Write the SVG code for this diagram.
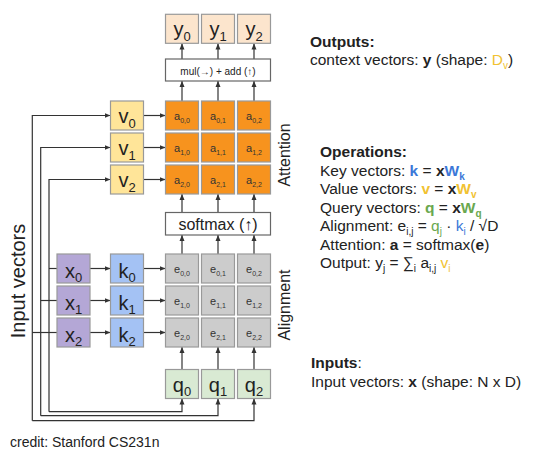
<svg xmlns="http://www.w3.org/2000/svg" width="550" height="460" viewBox="0 0 550 460">
<style>
text{font-family:"Liberation Sans",Arial,sans-serif;fill:#222}
.bx{stroke:#999;stroke-width:1.2}
.y{fill:#fce5cd}.v{fill:#ffe599}.a{fill:#f7931e}.e{fill:#cccccc}.x{fill:#b4a7d6}.k{fill:#a4c2f4}.q{fill:#d9ead3}.w{fill:#fff;stroke:#666;stroke-width:1.2}
.big{font-size:20px}
.sm{font-size:11px;fill:#333}
.ln{fill:none;stroke:#333;stroke-width:1.2}
.ar{marker-end:url(#ah)}
.t{font-size:15.5px}
.b{font-weight:bold}
.bl{fill:#3c78d8}.or{fill:#f1c232}.gr{fill:#6aa84f}
</style>
<defs>
<marker id="ah" markerUnits="userSpaceOnUse" markerWidth="6" markerHeight="6" refX="6" refY="3" orient="auto"><path d="M0,0.5 L6,3 L0,5.5 z" fill="#333"/></marker>
</defs>
<rect width="550" height="460" fill="#fff"/>

<g id="connectors">
<path class="ln ar" d="M32.3,420.7 V115.5 H110.5"/>
<path class="ln ar" d="M32.3,420.7 H254 V398.5"/>
<path class="ln" d="M32.3,332.5 H57"/>
<path class="ln ar" d="M40.7,415.7 V147.5 H110.5"/>
<path class="ln ar" d="M40.7,415.7 H218 V398.5"/>
<path class="ln" d="M40.7,300.5 H57"/>
<path class="ln ar" d="M49,411.7 V179.5 H110.5"/>
<path class="ln ar" d="M49,411.7 H182 V398.5"/>
<path class="ln" d="M49,268.5 H57"/>
<path class="ln ar" d="M90,268.5 H110.5"/><path class="ln ar" d="M90,300.5 H110.5"/><path class="ln ar" d="M90,332.5 H110.5"/>
<path class="ln ar" d="M143.5,268.5 H165.5"/><path class="ln ar" d="M143.5,300.5 H165.5"/><path class="ln ar" d="M143.5,332.5 H165.5"/>
<path class="ln ar" d="M143.5,115.5 H165.5"/><path class="ln ar" d="M143.5,147.5 H165.5"/><path class="ln ar" d="M143.5,179.5 H165.5"/>
<path class="ln ar" d="M182,59 V43.5"/><path class="ln ar" d="M218,59 V43.5"/><path class="ln ar" d="M254,59 V43.5"/>
<path class="ln ar" d="M182,101 V81"/><path class="ln ar" d="M218,101 V81"/><path class="ln ar" d="M254,101 V81"/>
<path class="ln ar" d="M182,212.5 V194"/><path class="ln ar" d="M218,212.5 V194"/><path class="ln ar" d="M254,212.5 V194"/>
<path class="ln ar" d="M182,254 V235"/><path class="ln ar" d="M218,254 V235"/><path class="ln ar" d="M254,254 V235"/>
<path class="ln ar" d="M182,369.5 V347"/><path class="ln ar" d="M218,369.5 V347"/><path class="ln ar" d="M254,369.5 V347"/>
</g>

<g id="y0"><rect class="bx y" x="165.5" y="14.3" width="33" height="29"/><text class="big" x="182" y="35.5" text-anchor="middle">y<tspan font-size="13" dy="5">0</tspan></text></g>
<g id="y1"><rect class="bx y" x="201.5" y="14.3" width="33" height="29"/><text class="big" x="218" y="35.5" text-anchor="middle">y<tspan font-size="13" dy="5">1</tspan></text></g>
<g id="y2"><rect class="bx y" x="237.5" y="14.3" width="33" height="29"/><text class="big" x="254" y="35.5" text-anchor="middle">y<tspan font-size="13" dy="5">2</tspan></text></g>

<g id="mul"><rect class="w" x="165.5" y="59" width="105" height="22"/><text x="218" y="74.5" font-size="10" text-anchor="middle">mul(→) + add (↑)</text></g>

<g id="v0"><rect class="bx v" x="110.5" y="101" width="33" height="29"/><text class="big" x="127" y="122.5" text-anchor="middle">v<tspan font-size="13" dy="5.5">0</tspan></text></g>
<g id="v1"><rect class="bx v" x="110.5" y="133" width="33" height="29"/><text class="big" x="127" y="154.5" text-anchor="middle">v<tspan font-size="13" dy="5.5">1</tspan></text></g>
<g id="v2"><rect class="bx v" x="110.5" y="165" width="33" height="29"/><text class="big" x="127" y="186.5" text-anchor="middle">v<tspan font-size="13" dy="5.5">2</tspan></text></g>

<g id="a00"><rect class="bx a" x="165.5" y="101" width="33" height="29"/><text class="sm" x="182" y="119.5" text-anchor="middle">a<tspan font-size="7" dy="3">0,0</tspan></text></g>
<g id="a01"><rect class="bx a" x="201.5" y="101" width="33" height="29"/><text class="sm" x="218" y="119.5" text-anchor="middle">a<tspan font-size="7" dy="3">0,1</tspan></text></g>
<g id="a02"><rect class="bx a" x="237.5" y="101" width="33" height="29"/><text class="sm" x="254" y="119.5" text-anchor="middle">a<tspan font-size="7" dy="3">0,2</tspan></text></g>
<g id="a10"><rect class="bx a" x="165.5" y="133" width="33" height="29"/><text class="sm" x="182" y="151.5" text-anchor="middle">a<tspan font-size="7" dy="3">1,0</tspan></text></g>
<g id="a11"><rect class="bx a" x="201.5" y="133" width="33" height="29"/><text class="sm" x="218" y="151.5" text-anchor="middle">a<tspan font-size="7" dy="3">1,1</tspan></text></g>
<g id="a12"><rect class="bx a" x="237.5" y="133" width="33" height="29"/><text class="sm" x="254" y="151.5" text-anchor="middle">a<tspan font-size="7" dy="3">1,2</tspan></text></g>
<g id="a20"><rect class="bx a" x="165.5" y="165" width="33" height="29"/><text class="sm" x="182" y="183.5" text-anchor="middle">a<tspan font-size="7" dy="3">2,0</tspan></text></g>
<g id="a21"><rect class="bx a" x="201.5" y="165" width="33" height="29"/><text class="sm" x="218" y="183.5" text-anchor="middle">a<tspan font-size="7" dy="3">2,1</tspan></text></g>
<g id="a22"><rect class="bx a" x="237.5" y="165" width="33" height="29"/><text class="sm" x="254" y="183.5" text-anchor="middle">a<tspan font-size="7" dy="3">2,2</tspan></text></g>

<g id="softmax"><rect class="w" x="165.5" y="212.5" width="105" height="22.5"/><text x="218" y="229.5" font-size="16" text-anchor="middle">softmax (↑)</text></g>

<g id="x0"><rect class="bx x" x="57" y="254" width="33" height="29"/><text class="big" x="73.5" y="278" text-anchor="middle">x<tspan font-size="13" dy="4">0</tspan></text></g>
<g id="x1"><rect class="bx x" x="57" y="286" width="33" height="29"/><text class="big" x="73.5" y="310" text-anchor="middle">x<tspan font-size="13" dy="4">1</tspan></text></g>
<g id="x2"><rect class="bx x" x="57" y="318" width="33" height="29"/><text class="big" x="73.5" y="342" text-anchor="middle">x<tspan font-size="13" dy="4">2</tspan></text></g>

<g id="k0"><rect class="bx k" x="110.5" y="254" width="33" height="29"/><text class="big" x="127" y="278" text-anchor="middle">k<tspan font-size="13" dy="4">0</tspan></text></g>
<g id="k1"><rect class="bx k" x="110.5" y="286" width="33" height="29"/><text class="big" x="127" y="310" text-anchor="middle">k<tspan font-size="13" dy="4">1</tspan></text></g>
<g id="k2"><rect class="bx k" x="110.5" y="318" width="33" height="29"/><text class="big" x="127" y="342" text-anchor="middle">k<tspan font-size="13" dy="4">2</tspan></text></g>

<g id="e00"><rect class="bx e" x="165.5" y="254" width="33" height="29"/><text class="sm" x="182" y="273" text-anchor="middle">e<tspan font-size="7" dy="3">0,0</tspan></text></g>
<g id="e01"><rect class="bx e" x="201.5" y="254" width="33" height="29"/><text class="sm" x="218" y="273" text-anchor="middle">e<tspan font-size="7" dy="3">0,1</tspan></text></g>
<g id="e02"><rect class="bx e" x="237.5" y="254" width="33" height="29"/><text class="sm" x="254" y="273" text-anchor="middle">e<tspan font-size="7" dy="3">0,2</tspan></text></g>
<g id="e10"><rect class="bx e" x="165.5" y="286" width="33" height="29"/><text class="sm" x="182" y="305" text-anchor="middle">e<tspan font-size="7" dy="3">1,0</tspan></text></g>
<g id="e11"><rect class="bx e" x="201.5" y="286" width="33" height="29"/><text class="sm" x="218" y="305" text-anchor="middle">e<tspan font-size="7" dy="3">1,1</tspan></text></g>
<g id="e12"><rect class="bx e" x="237.5" y="286" width="33" height="29"/><text class="sm" x="254" y="305" text-anchor="middle">e<tspan font-size="7" dy="3">1,2</tspan></text></g>
<g id="e20"><rect class="bx e" x="165.5" y="318" width="33" height="29"/><text class="sm" x="182" y="337" text-anchor="middle">e<tspan font-size="7" dy="3">2,0</tspan></text></g>
<g id="e21"><rect class="bx e" x="201.5" y="318" width="33" height="29"/><text class="sm" x="218" y="337" text-anchor="middle">e<tspan font-size="7" dy="3">2,1</tspan></text></g>
<g id="e22"><rect class="bx e" x="237.5" y="318" width="33" height="29"/><text class="sm" x="254" y="337" text-anchor="middle">e<tspan font-size="7" dy="3">2,2</tspan></text></g>

<g id="q0"><rect class="bx q" x="165.5" y="369.5" width="33" height="29"/><text class="big" x="182" y="391.5" text-anchor="middle">q<tspan font-size="13" dy="4">0</tspan></text></g>
<g id="q1"><rect class="bx q" x="201.5" y="369.5" width="33" height="29"/><text class="big" x="218" y="391.5" text-anchor="middle">q<tspan font-size="13" dy="4">1</tspan></text></g>
<g id="q2"><rect class="bx q" x="237.5" y="369.5" width="33" height="29"/><text class="big" x="254" y="391.5" text-anchor="middle">q<tspan font-size="13" dy="4">2</tspan></text></g>

<g id="labels">
<text font-size="20" text-anchor="middle" transform="translate(25,281) rotate(-90)">Input vectors</text>
<text font-size="16" text-anchor="middle" transform="translate(289.5,155) rotate(-90)">Attention</text>
<text font-size="16" text-anchor="middle" transform="translate(289.5,305) rotate(-90)">Alignment</text>
<text x="10" y="447" font-size="14">credit: Stanford CS231n</text>
</g>

<g id="notes" class="t">
<text class="t b" x="310" y="46.5">Outputs:</text>
<text class="t" x="310" y="65">context vectors: <tspan class="b">y</tspan> (shape: <tspan class="or">D</tspan><tspan class="or" font-size="10" dy="4">v</tspan><tspan dy="-4">)</tspan></text>

<text class="t b" x="320" y="157">Operations:</text>
<text class="t" x="320" y="175.5">Key vectors: <tspan class="b bl">k</tspan> = <tspan class="b">x</tspan><tspan class="b bl">W</tspan><tspan class="b bl" font-size="10" dy="4">k</tspan></text>
<text class="t" x="320" y="194">Value vectors: <tspan class="b or">v</tspan> = <tspan class="b">x</tspan><tspan class="b or">W</tspan><tspan class="b or" font-size="10" dy="4">v</tspan></text>
<text class="t" x="320" y="212.5">Query vectors: <tspan class="b gr">q</tspan> = <tspan class="b">x</tspan><tspan class="b gr">W</tspan><tspan class="b gr" font-size="10" dy="4">q</tspan></text>
<text class="t" x="320" y="231">Alignment: e<tspan font-size="10" dy="4">i,j</tspan><tspan dy="-4"> = </tspan><tspan class="gr">q</tspan><tspan class="gr" font-size="10" dy="4">j</tspan><tspan dy="-4"> · </tspan><tspan class="bl">k</tspan><tspan class="bl" font-size="10" dy="4">i</tspan><tspan dy="-4"> / √D</tspan></text>
<text class="t" x="320" y="249.5">Attention: <tspan class="b">a</tspan> = softmax(<tspan class="b">e</tspan>)</text>
<text class="t" x="320" y="268">Output: y<tspan font-size="10" dy="4">j</tspan><tspan dy="-4"> = ∑</tspan><tspan font-size="10" dy="4">i</tspan><tspan dy="-4"> a</tspan><tspan font-size="10" dy="4">i,j</tspan><tspan dy="-4"> </tspan><tspan class="or">v</tspan><tspan class="or" font-size="10" dy="4">i</tspan></text>

<text class="t" x="311" y="368"><tspan class="b">Inputs</tspan>:</text>
<text class="t" x="311" y="386.5">Input vectors: <tspan class="b">x</tspan> (shape: N x D)</text>
</g>
</svg>
